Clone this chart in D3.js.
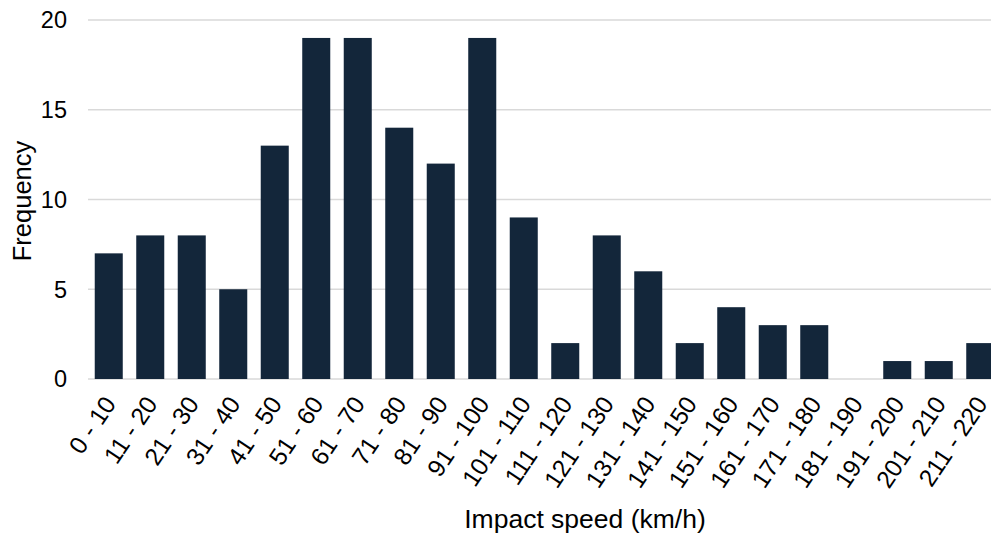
<!DOCTYPE html>
<html>
<head>
<meta charset="utf-8">
<script src="https://cdn.jsdelivr.net/npm/d3@7"></script>
<style>
  body { margin: 0; background: #fff; }
  svg { display: block; }
</style>
</head>
<body>
<div class="chart"></div>
<script>
const width = 991
const height = 537

const speed_bins = ["0 - 10", "11 - 20", "21 - 30", "31 - 40", "41 - 50", "51 - 60", "61 - 70",
  "71 - 80", "81 - 90", "91 - 100", "101 - 110", "111 - 120", "121 - 130", "131 - 140",
  "141 - 150", "151 - 160", "161 - 170", "171 - 180", "181 - 190", "191 - 200",
  "201 - 210", "211 - 220"]
const frequency = [7, 8, 8, 5, 13, 19, 19, 14, 12, 19, 9, 2, 8, 6, 2, 4, 3, 3, 0, 1, 1, 2]
const y_ticks = [0, 5, 10, 15, 20]

const data = speed_bins.map((bin, i) => ({bin: bin, count: frequency[i]}))

const svg = d3.create("svg")
  .attr("width", width)
  .attr("height", height)
  .style("font-family", "'Liberation Sans', Arial, sans-serif")

// plot runs a bit past the right edge, like the source
const x = d3.scaleBand()
  .domain(speed_bins)
  .range([88, 88 + 41.5 * speed_bins.length])
  .paddingInner(0.325)
  .paddingOuter(0.1625)

const y = d3.scaleLinear()
  .domain([0, 20])
  .range([379, 20])

// gridlines
svg.append("g")
  .selectAll("line")
  .data(y_ticks)
  .join("line")
  .attr("x1", 88)
  .attr("x2", width)
  .attr("y1", d => y(d))
  .attr("y2", d => y(d))
  .attr("stroke", "#d9d9d9")
  .attr("stroke-width", 1.3)

// y labels
svg.append("g")
  .selectAll("text")
  .data(y_ticks)
  .join("text")
  .attr("x", 67)
  .attr("y", d => y(d))
  .attr("dy", "0.36em")
  .attr("text-anchor", "end")
  .style("font-size", "23.5px")
  .attr("fill", "#000")
  .text(d => d)

svg.append("g")
  .selectAll("rect")
  .data(data)
  .join("rect")
  .attr("x", d => x(d.bin))
  .attr("width", x.bandwidth())
  .attr("y", d => y(d.count))
  .attr("height", d => y(0) - y(d.count))
  .attr("fill", "#13263a")

// x labels, rotated
svg.append("g")
  .selectAll("text")
  .data(speed_bins)
  .join("text")
  .attr("transform", d => `translate(${x(d) + x.bandwidth() / 2 - 6.5}, 394) rotate(-56)`)
  .attr("text-anchor", "end")
  .attr("dy", "0.72em")
  .style("font-size", "24.5px")
  .attr("fill", "#000")
  .text(d => d)

svg.append("text")
  .attr("transform", "translate(31, 201) rotate(-90)")
  .attr("text-anchor", "middle")
  .style("font-size", "25.5px")
  .text("Frequency")

svg.append("text")
  .attr("x", 585)
  .attr("y", 528)
  .attr("text-anchor", "middle")
  .style("font-size", "26.5px")
  .text("Impact speed (km/h)")

document.querySelector(".chart").append(svg.node())
</script>
</body>
</html>
